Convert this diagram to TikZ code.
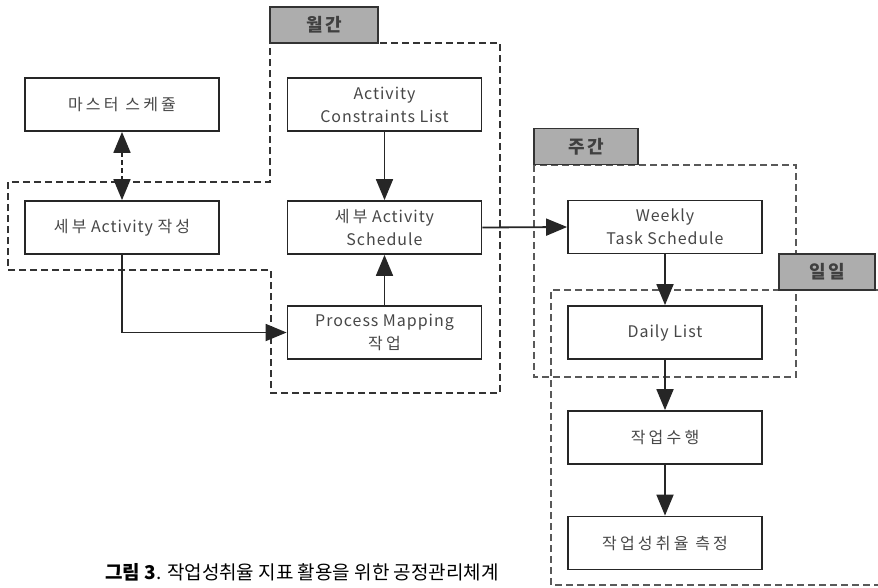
\documentclass[tikz,border=0pt]{standalone}
\usepackage{fontspec}
\setmainfont{Noto Sans CJK KR}
\newfontfamily\boxfont[LetterSpace=6]{Noto Sans CJK KR}
\newfontfamily\hgfont[LetterSpace=20]{Noto Sans CJK KR}
\newfontfamily\tabfont[LetterSpace=12]{Noto Sans CJK KR}
\newcommand{\hg}[1]{{\hgfont #1}}
\usetikzlibrary{arrows.meta}
\begin{document}
\begin{tikzpicture}[x=1pt,y=-1pt,
 box/.style={draw=black!85, line width=1.8pt, fill=white, minimum width=194pt, minimum height=53pt, inner sep=0pt, align=center, font=\boxfont\fontsize{16}{23}\selectfont, text=black!72},
 tab/.style={draw=black!80, line width=1.8pt, fill=black!32, minimum height=36pt, inner sep=0pt, font=\tabfont\bfseries\fontsize{18}{20}\selectfont, text=black!75},
 region/.style={draw=black!80, line width=1.8pt, dash pattern=on 7pt off 4pt},
 regionb/.style={draw=black!65, line width=1.8pt, dash pattern=on 7pt off 4pt},
 arr/.style={draw=black!85, line width=1.8pt, -{Triangle[length=21pt,width=17pt]}},
 darr/.style={draw=black!85, line width=1.8pt, dash pattern=on 5pt off 3pt, {Triangle[length=21pt,width=17pt]}-{Triangle[length=21pt,width=17pt]}},
]
\clip (0,0) rectangle (878,587);
\fill[white] (0,0) rectangle (878,587);

% regions
\draw[region] (270,43) -- (500,43) -- (500,393) -- (271,393) -- (271,270) -- (8,270) -- (8,182) -- (270,182) -- cycle;
\draw[regionb] (534,165) rectangle (796,377);
\draw[regionb] (890,290) -- (551,290) -- (551,585) -- (890,585);

% tabs
\node[tab, minimum width=108pt] (t1) at (324,25) {월간};
\node[tab, minimum width=104pt] (t2) at (586,146.5) {주간};
\node[tab, minimum width=96pt] (t3) at (827,272) {일일};

% boxes
\node[box] (ms) at (122,104.5) {\hg{마스터 스케쥴}};
\node[box] (sa) at (122,227.5) {\hg{세부} Activity \hg{작성}};
\node[box] (acl) at (384.5,104.5) {Activity\\Constraints List};
\node[box] (sch) at (384.5,227.5) {\hg{세부} Activity\\Schedule};
\node[box] (pm) at (384.5,332.5) {Process Mapping\\\hg{작업}};
\node[box] (wk) at (665,227) {Weekly\\Task Schedule};
\node[box] (dl) at (665,332.5) {Daily List};
\node[box] (wp) at (665,437.5) {\hg{작업수행}};
\node[box] (me) at (665,543) {\hg{작업성취율 측정}};

% connectors
\draw[darr] (ms.south) -- (sa.north);
\draw[arr] (sa.south) |- (pm.west);
\draw[arr] (acl.south) -- (sch.north);
\draw[arr] (pm.north) -- (sch.south);
\draw[arr] (sch.east) -- (wk.west);
\draw[arr] (wk.south) -- (dl.north);
\draw[arr] (dl.south) -- (wp.north);
\draw[arr] (wp.south) -- (me.north);

% caption
\node[font=\fontsize{19}{22}\selectfont, anchor=center] (cap) at (302,572) {\textbf{그림 3}. 작업성취율 지표 활용을 위한 공정관리체계};
\end{tikzpicture}
\end{document}
